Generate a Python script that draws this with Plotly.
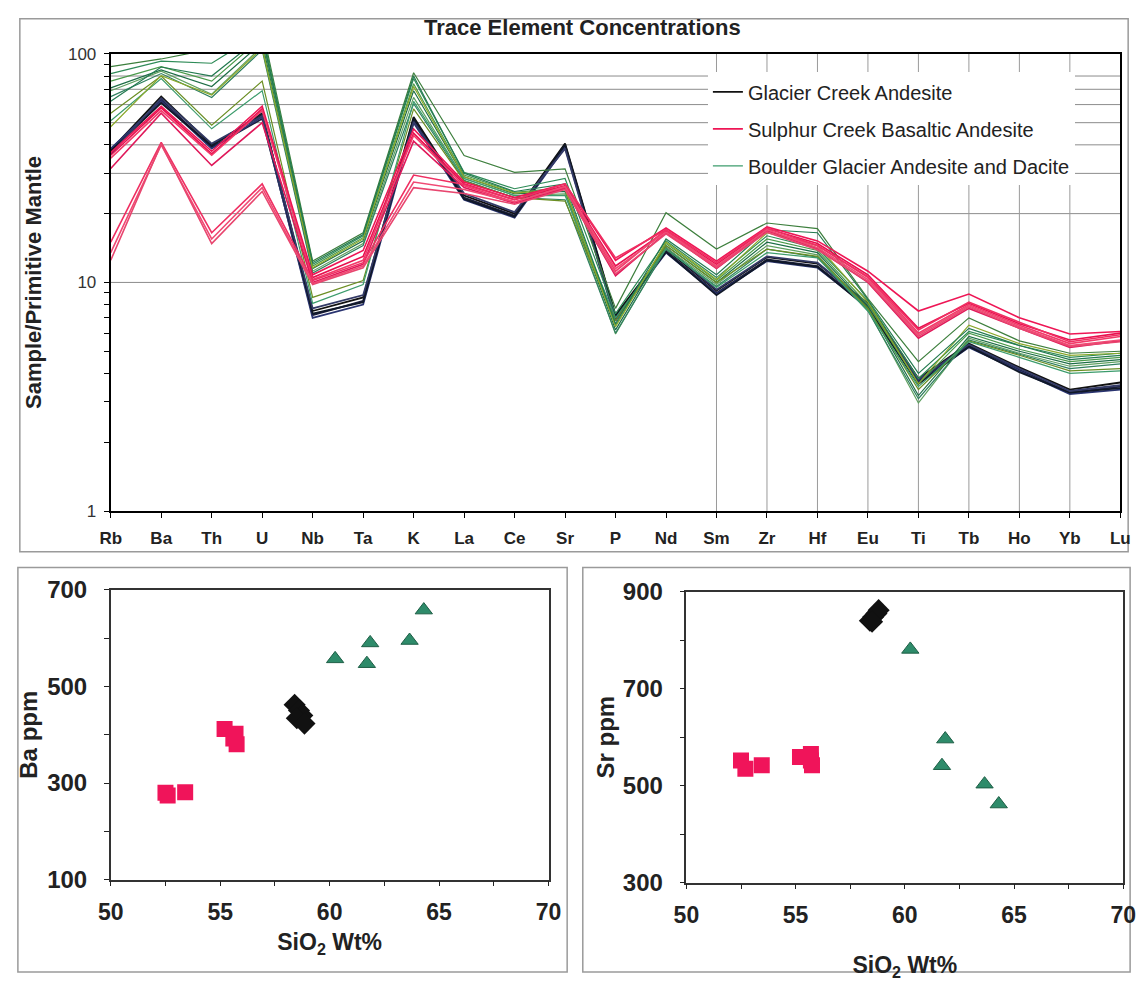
import plotly.graph_objects as go

W, H = 1148, 986
FONT = "Liberation Sans, Arial, Helvetica, sans-serif"


def px(x):
    return x / W


def py(y):
    return 1 - y / H


# ---------------- data ----------------
elements = ["Rb", "Ba", "Th", "U", "Nb", "Ta", "K", "La", "Ce", "Sr", "P",
            "Nd", "Sm", "Zr", "Hf", "Eu", "Ti", "Tb", "Ho", "Yb", "Lu"]

# Glacier Creek Andesite (sample / primitive mantle)
glacier_creek = [
    [38.0, 65, 40.0, 54.0, 7.5, 8.6, 53, 24.0, 20.0, 40.5, 7.2, 14.0, 9.2, 12.9, 12.1, 8.1, 3.80, 5.40, 4.25, 3.40, 3.65],
    [37.0, 63, 39.0, 52.0, 7.2, 8.3, 51, 23.5, 19.6, 39.5, 7.0, 13.7, 9.0, 12.6, 11.8, 7.9, 3.70, 5.30, 4.15, 3.30, 3.50],
    [38.5, 62, 38.5, 53.0, 7.0, 8.0, 50, 23.0, 19.2, 39.0, 6.9, 13.5, 8.9, 12.4, 11.6, 7.8, 3.65, 5.20, 4.10, 3.25, 3.40],
    [37.5, 61, 39.5, 55.0, 7.3, 8.2, 52, 23.2, 19.4, 40.0, 7.1, 13.6, 8.8, 12.5, 11.7, 7.7, 3.60, 5.25, 4.05, 3.30, 3.45],
    [36.5, 64, 40.5, 53.5, 7.7, 8.8, 50.5, 24.5, 20.3, 38.5, 6.8, 14.2, 9.3, 13.0, 12.2, 8.0, 3.75, 5.35, 4.20, 3.35, 3.55],
]

# Sulphur Creek Basaltic Andesite
sulphur_creek = [
    [37.0, 59.0, 37.5, 59.0, 10.8, 13.8, 47.0, 27.5, 23.5, 27.0, 12.5, 17.3, 12.4, 17.5, 15.2, 11.2, 7.5, 8.9, 7.0, 5.95, 6.10],
    [36.0, 58.0, 36.5, 57.5, 10.5, 13.0, 45.0, 27.0, 23.0, 26.5, 11.8, 16.8, 12.0, 17.2, 14.8, 10.8, 6.3, 8.1, 6.6, 5.60, 6.00],
    [35.0, 56.5, 36.0, 56.5, 10.3, 12.5, 44.0, 26.5, 22.5, 26.0, 11.2, 17.0, 11.7, 16.8, 14.5, 10.5, 6.0, 8.0, 6.5, 5.40, 5.80],
    [31.5, 55.0, 32.5, 50.0, 10.0, 12.0, 41.5, 26.0, 22.2, 25.7, 10.7, 16.5, 11.5, 16.9, 14.0, 10.0, 5.7, 7.7, 6.3, 5.20, 5.55],
    [15.0, 41.0, 16.5, 27.0, 10.2, 12.2, 29.5, 26.8, 23.0, 27.0, 12.8, 17.0, 12.2, 17.3, 14.5, 10.6, 6.2, 8.2, 6.7, 5.50, 5.90],
    [13.5, 40.0, 15.5, 26.0, 9.9, 11.8, 27.5, 25.5, 22.5, 26.3, 11.5, 16.6, 11.8, 17.0, 14.2, 10.3, 5.9, 7.9, 6.4, 5.30, 5.60],
    [12.5, 40.5, 14.8, 25.0, 9.8, 11.6, 26.0, 24.5, 22.0, 25.5, 10.9, 16.3, 11.6, 16.6, 13.9, 10.1, 5.8, 7.8, 6.3, 5.25, 5.50],
]

# Boulder Glacier Andesite and Dacite
boulder_glacier = [
    [88, 95.0, 105, 130, 12.4, 16.5, 82.7, 35.9, 30.3, 31.4, 7.7, 20.2, 14.0, 18.2, 17.2, 8.5, 4.50, 7.00, 5.55, 4.90, 5.00],
    [82, 93.0, 91, 125, 12.0, 16.0, 78.0, 30.3, 25.7, 28.5, 7.3, 15.2, 10.5, 16.0, 14.1, 8.3, 3.80, 6.10, 5.30, 4.70, 4.90],
    [76, 88.0, 76, 118, 11.8, 15.7, 74.0, 29.5, 24.8, 26.0, 6.5, 14.8, 10.2, 15.5, 13.8, 8.0, 3.60, 6.00, 5.10, 4.50, 4.70],
    [71, 85.0, 72, 112, 11.5, 15.2, 69.0, 29.0, 24.4, 25.0, 6.2, 14.5, 10.0, 15.0, 13.5, 7.8, 3.20, 5.80, 5.00, 4.40, 4.60],
    [69, 84.0, 66.6, 108, 11.2, 14.8, 64.5, 28.5, 24.0, 24.4, 5.95, 14.2, 9.8, 14.5, 13.2, 7.6, 2.97, 5.70, 4.90, 4.30, 4.50],
    [65, 82.0, 64.4, 104, 11.0, 14.5, 60.5, 28.0, 23.5, 23.0, 6.0, 14.0, 9.6, 14.0, 12.9, 7.5, 3.10, 5.60, 4.85, 4.20, 4.40],
    [55, 80.0, 48.7, 76, 8.6, 10.2, 57.5, 27.8, 23.5, 22.7, 6.8, 14.5, 10.0, 14.0, 13.0, 7.7, 3.40, 5.55, 4.80, 4.10, 4.20],
    [51, 78.0, 47.0, 69, 8.1, 9.8, 62.0, 28.5, 24.0, 24.0, 7.0, 14.0, 9.5, 13.5, 12.8, 7.5, 3.50, 5.50, 4.70, 4.00, 4.10],
    [48, 80.3, 66.0, 106, 11.6, 15.5, 72.0, 29.0, 24.6, 25.5, 6.4, 15.0, 10.3, 16.5, 14.5, 8.2, 3.60, 6.50, 5.40, 4.80, 4.90],
    [62, 87.6, 80.0, 120, 12.2, 16.2, 80.0, 30.0, 25.0, 27.0, 6.6, 15.5, 10.8, 17.0, 16.5, 8.4, 4.00, 6.30, 5.30, 4.60, 4.80],
]

# Scatter data (ppm vs SiO2 wt%)
gc_sio2 = [58.4, 58.6, 58.75, 58.5, 58.85]
gc_ba = [462, 450, 440, 434, 423]
gc_sr_sio2 = [58.4, 58.55, 58.7, 58.8, 58.5]
gc_sr = [840, 848, 855, 862, 838]

sc_sio2 = [52.5, 52.6, 53.4, 55.2, 55.7, 55.75, 55.6]
sc_ba = [280, 274, 281, 412, 402, 380, 392]
sc_sr_sio2 = [52.5, 52.7, 53.45, 55.2, 55.7, 55.75, 55.7]
sc_sr = [552, 535, 542, 559, 565, 542, 552]

bg_sio2 = [60.25, 61.7, 61.85, 63.65, 64.3]
bg_ba = [557, 547, 590, 595, 658]
bg_sr = [781, 541, 596, 503, 462]

top_minor_ticks = [1, 2, 3, 4, 5, 6, 7, 8, 9, 10, 20, 30, 40, 50, 60, 70, 80, 90, 100]
top_tick_labels = ["1", "", "", "", "", "", "", "", "", "10", "", "", "", "", "", "", "", "", "100"]
top_hgrid = [10, 20, 30, 40, 50, 60, 70, 80]
top_vgrid = ["Sm", "Zr", "Hf", "Eu", "Ti", "Tb", "Ho", "Yb"]

# ---------------- styles ----------------
gc_colors = ["#111111", "#1c1f3d", "#2a3470", "#101828", "#333a66"]
sc_colors = ["#ee1655", "#e8104f", "#f23a6a", "#e0185a", "#ef2f62", "#f04a74", "#e8466f"]
bg_colors = ["#3d7f3d", "#2e8b57", "#4a9a4a", "#1e6e46", "#5fa060",
             "#2f7f5f", "#6b8e23", "#3c9c6c", "#8aa82a", "#247a50"]

RED = "#f0145a"
GREEN = "#2e8b6a"

fig = go.Figure()

for i, vals in enumerate(glacier_creek):
    fig.add_trace(go.Scatter(
        x=elements, y=vals, mode="lines",
        line=dict(color=gc_colors[i], width=1.8),
        name="Glacier Creek Andesite", legendgroup="gc", legendrank=1,
        showlegend=(i == 0), xaxis="x", yaxis="y", hoverinfo="skip"))

for i, vals in enumerate(boulder_glacier):
    fig.add_trace(go.Scatter(
        x=elements, y=vals, mode="lines",
        line=dict(color=bg_colors[i], width=1.2),
        name="Boulder Glacier Andesite and Dacite", legendgroup="bg", legendrank=3,
        showlegend=(i == 7), xaxis="x", yaxis="y", hoverinfo="skip"))

for i, vals in enumerate(sulphur_creek):
    fig.add_trace(go.Scatter(
        x=elements, y=vals, mode="lines",
        line=dict(color=sc_colors[i], width=1.6),
        name="Sulphur Creek Basaltic Andesite", legendgroup="sc", legendrank=2,
        showlegend=(i == 0), xaxis="x", yaxis="y", hoverinfo="skip"))

# Ba vs SiO2
fig.add_trace(go.Scatter(x=sc_sio2, y=sc_ba, mode="markers", showlegend=False,
                         marker=dict(symbol="square", size=16, color=RED),
                         xaxis="x2", yaxis="y2"))
fig.add_trace(go.Scatter(x=gc_sio2, y=gc_ba, mode="markers", showlegend=False,
                         marker=dict(symbol="diamond", size=17, color="#111111"),
                         xaxis="x2", yaxis="y2"))
fig.add_trace(go.Scatter(x=bg_sio2, y=bg_ba, mode="markers", showlegend=False,
                         marker=dict(symbol="triangle-up", size=15, color=GREEN,
                                     line=dict(color="#1d5e45", width=1)),
                         xaxis="x2", yaxis="y2"))

# Sr vs SiO2
fig.add_trace(go.Scatter(x=sc_sr_sio2, y=sc_sr, mode="markers", showlegend=False,
                         marker=dict(symbol="square", size=16, color=RED),
                         xaxis="x3", yaxis="y3"))
fig.add_trace(go.Scatter(x=gc_sr_sio2, y=gc_sr, mode="markers", showlegend=False,
                         marker=dict(symbol="diamond", size=17, color="#111111"),
                         xaxis="x3", yaxis="y3"))
fig.add_trace(go.Scatter(x=bg_sio2, y=bg_sr, mode="markers", showlegend=False,
                         marker=dict(symbol="triangle-up", size=15, color=GREEN,
                                     line=dict(color="#1d5e45", width=1)),
                         xaxis="x3", yaxis="y3"))

shapes = []
# panel frames
for (x0, y0, x1, y1) in [(7, 5, 1141, 553), (5, 569, 567, 985), (583, 569, 1143, 985)]:
    shapes.append(dict(type="rect", xref="paper", yref="paper",
                       x0=px(x0), x1=px(x1), y0=py(y1), y1=py(y0),
                       line=dict(color="#9a9a9a", width=1.5), layer="below"))
# gridlines of the spider diagram
for v in top_hgrid:
    shapes.append(dict(type="line", xref="x domain", yref="y", x0=0, x1=1,
                       y0=v, y1=v, line=dict(color="#8c8c8c", width=1), layer="below"))
for el in top_vgrid:
    idx = elements.index(el)
    shapes.append(dict(type="line", xref="x", yref="y domain", x0=idx, x1=idx,
                       y0=0, y1=1, line=dict(color="#9a9a9a", width=1), layer="below"))

bold = dict(family=FONT, weight="bold", color="#222222")

fig.update_layout(
    width=W, height=H, margin=dict(l=0, r=0, t=0, b=0),
    paper_bgcolor="white", plot_bgcolor="rgba(0,0,0,0)",
    font=dict(family=FONT, color="#222222"),
    shapes=shapes,
    legend=dict(x=px(711), y=py(60), xanchor="left", yanchor="top",
                bgcolor="white", borderwidth=0, traceorder="grouped",
                tracegroupgap=8, font=dict(family=FONT, size=20, color="#222222"),
                itemwidth=30),
    annotations=[dict(text="Trace Element Concentrations", x=px(583), y=py(14),
                      xref="paper", yref="paper", showarrow=False,
                      xanchor="center", yanchor="middle",
                      font=dict(size=22, **bold))],
    xaxis=dict(domain=[px(100), px(1133)], anchor="y", type="category",
               categoryorder="array", categoryarray=elements, range=[0, 20],
               showline=True, linecolor="black", linewidth=2, mirror=True,
               ticks="outside", ticklen=5, tickcolor="black",
               tickfont=dict(size=17, **bold), showgrid=False, zeroline=False,
               ticklabelstandoff=6),
    yaxis=dict(domain=[py(511), py(41)], anchor="x", type="log", range=[0, 2],
               tickvals=top_minor_ticks, ticktext=top_tick_labels,
               ticks="outside", ticklen=5, tickcolor="black",
               showline=True, linecolor="black", linewidth=2, mirror=True,
               showgrid=False, zeroline=False, ticklabelstandoff=4,
               tickfont=dict(family=FONT, size=17, color="#333333"),
               title=dict(text="Sample/Primitive Mantle", standoff=20,
                          font=dict(size=22, **bold))),
    xaxis2=dict(domain=[px(100), px(548)], anchor="y2", range=[50, 70],
                tickvals=[50, 52.5, 55, 57.5, 60, 62.5, 65, 67.5, 70],
                ticktext=["50", "", "55", "", "60", "", "65", "", "70"],
                ticks="outside", ticklen=5, tickcolor="#222",
                showline=True, linecolor="#333", linewidth=1.5, mirror=True,
                showgrid=False, zeroline=False, ticklabelstandoff=6,
                tickfont=dict(size=23, **bold),
                title=dict(text="SiO<sub>2</sub> Wt%", standoff=10,
                           font=dict(size=23, **bold))),
    yaxis2=dict(domain=[py(890), py(592)], anchor="x2", range=[100, 700],
                tickvals=[100, 200, 300, 400, 500, 600, 700],
                ticktext=["100", "", "300", "", "500", "", "700"],
                ticks="outside", ticklen=5, tickcolor="#222",
                showline=True, linecolor="#333", linewidth=1.5, mirror=True,
                showgrid=False, zeroline=False, ticklabelstandoff=12,
                tickfont=dict(size=24, **bold),
                title=dict(text="Ba ppm", standoff=3, font=dict(size=24, **bold))),
    xaxis3=dict(domain=[px(689), px(1136)], anchor="y3", range=[50, 70],
                tickvals=[50, 52.5, 55, 57.5, 60, 62.5, 65, 67.5, 70],
                ticktext=["50", "", "55", "", "60", "", "65", "", "70"],
                ticks="outside", ticklen=5, tickcolor="#222",
                showline=True, linecolor="#333", linewidth=1.5, mirror=True,
                showgrid=False, zeroline=False, ticklabelstandoff=6,
                tickfont=dict(size=23, **bold),
                title=dict(text="SiO<sub>2</sub> Wt%", standoff=30,
                           font=dict(size=23, **bold))),
    yaxis3=dict(domain=[py(893), py(594)], anchor="x3", range=[300, 900],
                tickvals=[300, 400, 500, 600, 700, 800, 900],
                ticktext=["300", "", "500", "", "700", "", "900"],
                ticks="outside", ticklen=5, tickcolor="#222",
                showline=True, linecolor="#333", linewidth=1.5, mirror=True,
                showgrid=False, zeroline=False, ticklabelstandoff=12,
                tickfont=dict(size=24, **bold),
                title=dict(text="Sr ppm", standoff=1, font=dict(size=24, **bold))),
)

fig.write_html("out.html")
